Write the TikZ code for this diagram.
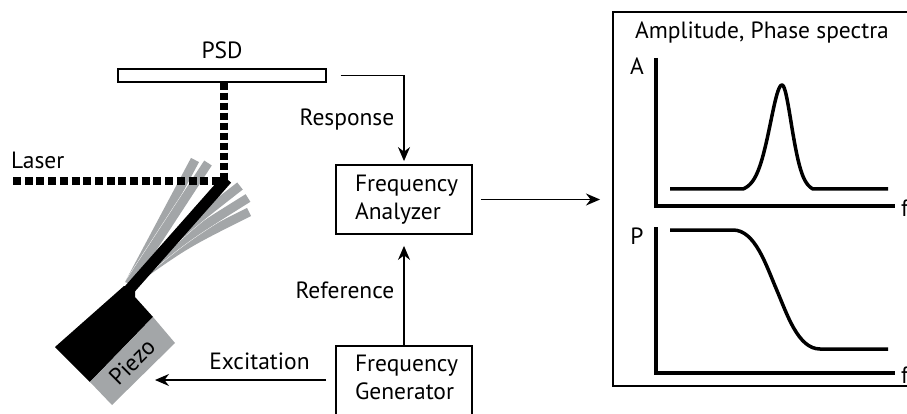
\documentclass[tikz,border=0pt]{standalone}
\usepackage{fontspec}
\setmainfont{PT Sans}
\usetikzlibrary{arrows.meta,positioning}
\definecolor{beamgray}{RGB}{163,166,168}
\tikzstyle{fbox}=[draw, line width=1.8, minimum width=136, minimum height=69, align=left, text width=98]
\tikzstyle{signal}=[line width=1.4, -{Stealth[length=14pt,width=12pt]}]
\tikzstyle{laser}=[line width=8, dash pattern=on 8 off 3.7]
\tikzstyle{curve}=[line width=3.5]
\newcommand{\flexbeam}[2]{
  \draw[white, line width=9.8] (129,284) .. controls (#1) .. (#2);
  \draw[beamgray, line width=9] (129,284) .. controls (#1) .. (#2);
}
\newcommand{\peak}[1]{0.6*exp(-(#1)^2/338)+0.4/(1+(#1)^2/225)}

\begin{document}
\begin{tikzpicture}[x=1pt, y=-1pt, inner sep=0pt, font=\fontsize{23.5}{28}\selectfont]
\useasboundingbox (0,0) rectangle (907,414);
\clip (0,0) rectangle (907,414);
\coordinate (tip) at (224,181);
\coordinate (exc) at (155,380);
\node[draw, line width=1.2, minimum width=208, minimum height=13] (psd) at (222,75.5) {};
\node (psdlabel) at (222,50) {PSD};
\node[anchor=west] (laserlabel) at (11,160) {Laser};
% deflected cantilever positions
\flexbeam{185,244}{249,212}
\flexbeam{184,238}{248,198}
\flexbeam{181,232}{240,186}
\flexbeam{162,222}{195,160}
\flexbeam{169,224}{208,163}
\draw[laser] (13,181) -- (tip);
\draw[line width=8, dash pattern=on 7 off 3] (tip |- psd.south) -- (tip);
\draw[line width=11] (128,291) -- (227,179);
\fill (55,347) -- (124,286) -- (135,288) -- (135,297) -- (153,317) -- (90,382) -- cycle;
\fill[beamgray] (90,382) -- (153,317) -- (175,343) -- (112,405) -- cycle;
\node[rotate=45] (piezo) at (132,362) {Piezo};
\node[fbox] (analyzer) at (404,199.5) {Frequency\\Analyzer};
\node[fbox, minimum height=80] (generator) at (404,386) {};
\node[align=left, text width=98] (gentext) at (404,377) {Frequency\\Generator};
\node[draw, line width=1.8, minimum width=320, minimum height=374, anchor=north west] (spectra) at (612,11) {};
\node (title) at (762,32) {Amplitude, Phase spectra};
\draw[signal, shorten >=3pt] ([xshift=14]psd.east) -| node[pos=0.75, left=9pt] (resp) {Response} (analyzer.north);
\draw[signal, shorten >=11pt] (generator.north) -- node[midway, left=9pt] (ref) {Reference} (analyzer.south);
\draw[signal, shorten <=8pt, shorten >=12pt] (analyzer.east) -- (analyzer.east -| spectra.west);
\draw[signal, shorten <=9pt] (generator.west |- exc) -- node[pos=0.42, above=10pt] (exclabel) {Excitation} (exc);
% amplitude spectrum
\draw[curve] (656,58) -- (656,206) -- (895,206);
\node (alabel) at (637,66) {A};
\node[anchor=west] (fa) at (901,208) {f};
\draw[curve, line join=round] (670,189) -- (743,189)
  -- plot[domain=743:782, samples=40, smooth] (\x, {189-110.43*(\peak{\x-782}-0.0582)})
  -- plot[domain=782:813, samples=40, smooth] (\x, {189-110.43*(\peak{(\x-782)*39/31}-0.0582)})
  -- (888,189);
% phase spectrum
\draw[curve] (656,227) -- (656,373) -- (895,373);
\node (plabel) at (637,236) {P};
\node[anchor=west] (fp) at (901,375) {f};
\draw[curve] (670,230) -- (733,230) .. controls (755,230) and (766,265) .. (776.5,289.5) .. controls (787,314) and (798,349) .. (820,349) -- (888,349);
\end{tikzpicture}
\end{document}
